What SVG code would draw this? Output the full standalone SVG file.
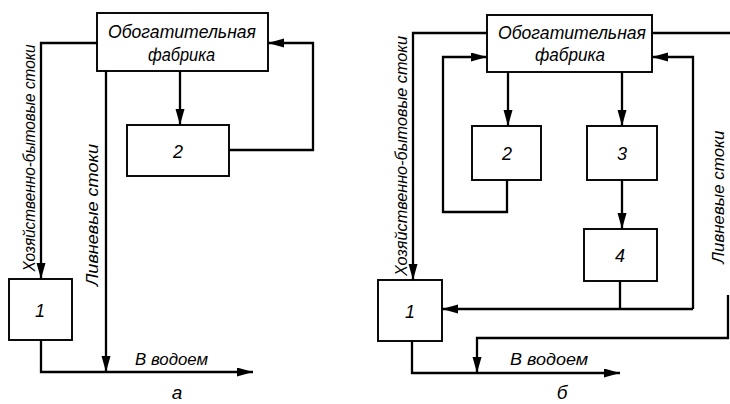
<svg xmlns="http://www.w3.org/2000/svg" width="730" height="404" viewBox="0 0 730 404">
<style>
.box{fill:#fff;stroke:#000;stroke-width:1.9}
.ln{fill:none;stroke:#000;stroke-width:2.3}
.t{font-family:"Liberation Sans",Arial,sans-serif;font-style:italic;fill:#000}
.big{font-size:19px}
.num{font-size:18px;text-anchor:middle}
.lab{font-size:16px;text-anchor:middle}
</style>
<defs>
<marker id="ar" markerUnits="userSpaceOnUse" markerWidth="17" markerHeight="10" refX="16" refY="4.5" orient="auto">
<path d="M0,0 L16,4.5 L0,9 z" fill="#000"/>
</marker>
</defs>
<rect width="730" height="404" fill="#fff"/>
<g id="connectors">
<path class="ln" d="M97,43 L41,43 L41,279" marker-end="url(#ar)"/>
<path class="ln" d="M180,71 L180,125" marker-end="url(#ar)"/>
<path class="ln" d="M229,150 L313,150 L313,43 L268,43" marker-end="url(#ar)"/>
<path class="ln" d="M106,71 L106,372" marker-end="url(#ar)"/>
<path class="ln" d="M41,340 L41,372 L253,372" marker-end="url(#ar)"/>
<path class="ln" d="M487,33 L413,33 L413,280" marker-end="url(#ar)"/>
<path class="ln" d="M652,33 L730,33"/>
<path class="ln" d="M728,295 L728,338 L477,338 L477,373" marker-end="url(#ar)"/>
<path class="ln" d="M508,72 L508,126" marker-end="url(#ar)"/>
<path class="ln" d="M622,72 L622,126" marker-end="url(#ar)"/>
<path class="ln" d="M622,180 L622,229" marker-end="url(#ar)"/>
<path class="ln" d="M507,180 L507,212 L443,212 L443,57 L487,57" marker-end="url(#ar)"/>
<path class="ln" d="M693,309 L693,57 L652,57" marker-end="url(#ar)"/>
<path class="ln" d="M620,281 L620,309"/>
<path class="ln" d="M693,309 L442,309" marker-end="url(#ar)"/>
<path class="ln" d="M412,341 L412,373 L620,373" marker-end="url(#ar)"/>
</g>
<g id="a-fabrika">
<rect class="box" x="97" y="13" width="171" height="58"/>
<text class="t big" x="108" y="38" textLength="148" lengthAdjust="spacingAndGlyphs">Обогатительная</text>
<text class="t big" x="148" y="61" textLength="67" lengthAdjust="spacingAndGlyphs">фабрика</text>
</g>
<g id="a-node2">
<rect class="box" x="127" y="125" width="102" height="51"/>
<text class="t num" x="178" y="158">2</text>
</g>
<g id="a-node1">
<rect class="box" x="9" y="279" width="63" height="61"/>
<text class="t num" x="40" y="317">1</text>
</g>
<g id="a-labels">
<text class="t lab" transform="translate(35,158) rotate(-90)" textLength="227" lengthAdjust="spacingAndGlyphs">Хозяйственно-бытовые стоки</text>
<text class="t lab" transform="translate(98,215) rotate(-90)" textLength="142" lengthAdjust="spacingAndGlyphs">Ливневые стоки</text>
<text class="t" font-size="16" x="135" y="365" textLength="73" lengthAdjust="spacingAndGlyphs">В водоем</text>
<text class="t" font-size="19" x="177" y="399" text-anchor="middle">а</text>
</g>
<g id="b-fabrika">
<rect class="box" x="487" y="15" width="165" height="57"/>
<text class="t big" x="498" y="39" textLength="148" lengthAdjust="spacingAndGlyphs">Обогатительная</text>
<text class="t big" x="535" y="61" textLength="70" lengthAdjust="spacingAndGlyphs">фабрика</text>
</g>
<g id="b-node2">
<rect class="box" x="472" y="126" width="69" height="54"/>
<text class="t num" x="507" y="160">2</text>
</g>
<g id="b-node3">
<rect class="box" x="587" y="126" width="70" height="54"/>
<text class="t num" x="622" y="160">3</text>
</g>
<g id="b-node4">
<rect class="box" x="584" y="229" width="73" height="52"/>
<text class="t num" x="620" y="262">4</text>
</g>
<g id="b-node1">
<rect class="box" x="378" y="280" width="64" height="61"/>
<text class="t num" x="410" y="318">1</text>
</g>
<g id="b-labels">
<text class="t lab" transform="translate(407,156) rotate(-90)" textLength="240" lengthAdjust="spacingAndGlyphs">Хозяйственно-бытовые стоки</text>
<text class="t lab" transform="translate(724,197) rotate(-90)" textLength="133" lengthAdjust="spacingAndGlyphs">Ливневые стоки</text>
<text class="t" font-size="16" x="510" y="365" textLength="78" lengthAdjust="spacingAndGlyphs">В водоем</text>
<text class="t" font-size="19" x="562" y="399" text-anchor="middle">б</text>
</g>
</svg>
